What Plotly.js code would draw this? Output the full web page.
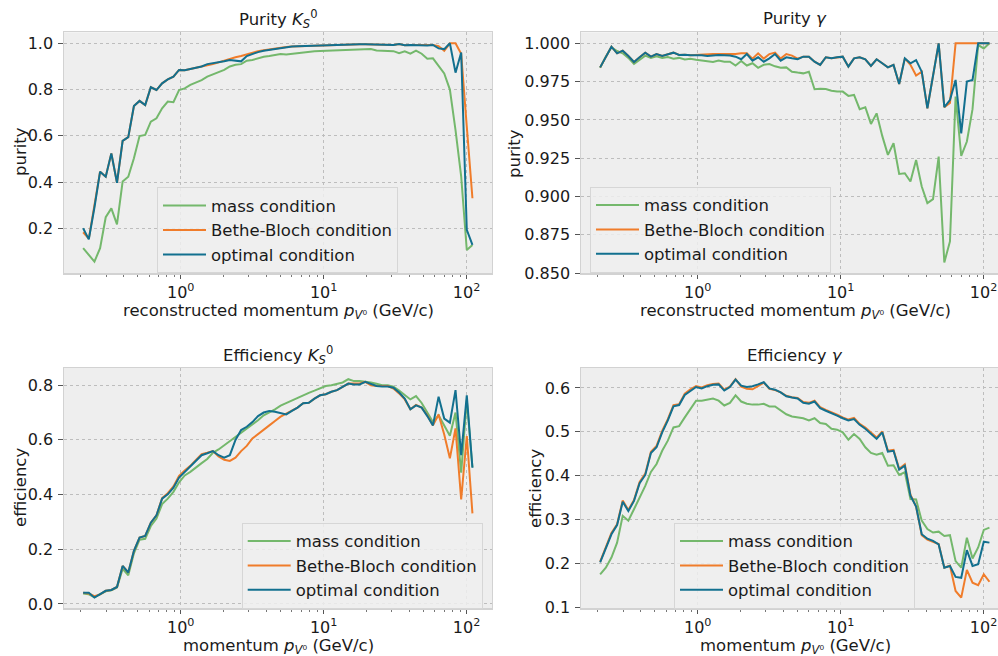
<!DOCTYPE html>
<html>
<head>
<meta charset="utf-8">
<script src="https://cdn.plot.ly/plotly-3.0.1.min.js"></script>
<style>
  html, body { margin: 0; padding: 0; overflow: hidden; background: #ffffff; }
  #chart { width: 1009px; height: 656px; }
</style>
</head>
<body>
<div id="chart"></div>
<script>
// Reconstructed V0 momentum bin centres (GeV/c), log-spaced
const momentum = [0.2075,0.2273,0.2489,0.2726,0.2985,0.3268,0.3579,0.3920,0.4293,0.4702,
  0.5148,0.5638,0.6175,0.6762,0.7406,0.8112,0.8887,0.9732,1.0656,1.1671,
  1.2782,1.3998,1.5330,1.6788,1.8385,2.0137,2.2054,2.4155,2.6448,2.8965,
  3.1721,3.4739,3.8046,4.1667,4.5634,4.9976,5.4732,5.9952,6.5645,7.1895,
  7.8740,8.6237,9.4450,10.342,11.326,12.405,13.587,14.880,16.293,17.845,
  19.543,21.404,23.442,25.668,28.113,30.789,33.721,36.932,40.442,44.293,
  48.511,53.130,58.190,63.714,69.782,76.427,83.704,91.675,100.37,109.93];

// Purity K0_S
const purityK0Mass = [0.114,0.085,0.056,0.114,0.248,0.286,0.217,0.402,0.423,0.503,
  0.599,0.604,0.661,0.676,0.719,0.748,0.745,0.798,0.805,0.820,
  0.830,0.841,0.856,0.866,0.875,0.885,0.900,0.907,0.910,0.925,
  0.928,0.935,0.942,0.945,0.951,0.954,0.952,0.955,0.958,0.962,
  0.965,0.966,0.967,0.968,0.968,0.968,0.968,0.969,0.970,0.971,
  0.972,0.975,0.969,0.968,0.968,0.966,0.957,0.965,0.955,0.968,
  0.955,0.933,0.935,0.905,0.870,0.800,0.625,0.425,0.106,0.128];
const purityK0BetheBloch = [0.183,0.155,0.300,0.445,0.423,0.524,0.397,0.578,0.594,0.729,
  0.751,0.733,0.810,0.798,0.827,0.844,0.856,0.885,0.884,0.890,
  0.895,0.902,0.905,0.910,0.918,0.925,0.935,0.940,0.945,0.952,
  0.960,0.966,0.970,0.974,0.978,0.982,0.984,0.986,0.987,0.988,
  0.990,0.991,0.992,0.993,0.993,0.994,0.994,0.995,0.995,0.996,
  0.996,0.996,0.995,0.994,0.994,0.993,0.997,0.992,0.993,0.992,
  0.993,0.993,0.993,0.988,0.968,1.000,1.000,0.955,0.640,0.330];
const purityK0Optimal = [0.200,0.152,0.290,0.445,0.423,0.524,0.397,0.578,0.594,0.729,
  0.751,0.733,0.810,0.798,0.827,0.844,0.856,0.885,0.884,0.890,
  0.897,0.900,0.910,0.913,0.918,0.922,0.928,0.925,0.922,0.945,
  0.955,0.962,0.968,0.972,0.977,0.981,0.984,0.986,0.987,0.988,
  0.990,0.991,0.992,0.993,0.993,0.994,0.994,0.995,0.995,0.996,
  0.996,0.996,0.995,0.994,0.994,0.993,0.997,0.992,0.993,0.992,
  0.993,0.991,0.993,0.978,0.975,1.000,0.873,0.960,0.193,0.128];

// Purity gamma
const purityGammaMass = [0.9840,0.9913,0.9974,0.9950,0.9935,0.9905,0.9865,0.9895,0.9920,0.9905,
  0.9915,0.9905,0.9910,0.9900,0.9905,0.9895,0.9900,0.9893,0.9888,0.9885,
  0.9878,0.9887,0.9880,0.9880,0.9855,0.9885,0.9855,0.9870,0.9840,0.9860,
  0.9865,0.9850,0.9840,0.9843,0.9815,0.9809,0.9804,0.9815,0.9700,0.9704,
  0.9702,0.9691,0.9685,0.9685,0.9657,0.9663,0.9570,0.9583,0.9474,0.9543,
  0.9396,0.9272,0.9348,0.9148,0.9152,0.9098,0.9239,0.9065,0.8957,0.8983,
  0.9261,0.8570,0.8707,0.9652,0.9265,0.9359,0.9570,0.9989,0.9967,1.0000];
const purityGammaBetheBloch = [0.9843,0.9913,0.9978,0.9935,0.9952,0.9917,0.9878,0.9909,0.9939,0.9913,
  0.9930,0.9917,0.9930,0.9939,0.9924,0.9926,0.9922,0.9924,0.9930,0.9930,
  0.9930,0.9930,0.9930,0.9932,0.9930,0.9935,0.9935,0.9900,0.9935,0.9900,
  0.9930,0.9940,0.9900,0.9930,0.9920,0.9900,0.9913,0.9913,0.9880,0.9859,
  0.9909,0.9902,0.9909,0.9913,0.9848,0.9902,0.9909,0.9896,0.9852,0.9896,
  0.9870,0.9843,0.9859,0.9735,0.9902,0.9860,0.9790,0.9815,0.9576,0.9783,
  1.0000,0.9583,0.9610,1.0000,1.0000,1.0000,1.0000,1.0000,1.0000,1.0000];
const purityGammaOptimal = [0.9843,0.9913,0.9978,0.9935,0.9952,0.9917,0.9878,0.9909,0.9939,0.9913,
  0.9930,0.9917,0.9930,0.9939,0.9924,0.9926,0.9922,0.9924,0.9922,0.9917,
  0.9920,0.9924,0.9922,0.9920,0.9913,0.9896,0.9930,0.9887,0.9909,0.9880,
  0.9902,0.9930,0.9887,0.9909,0.9902,0.9896,0.9913,0.9913,0.9880,0.9859,
  0.9909,0.9902,0.9909,0.9913,0.9848,0.9902,0.9909,0.9896,0.9852,0.9896,
  0.9870,0.9843,0.9859,0.9735,0.9902,0.9870,0.9891,0.9815,0.9576,0.9783,
  1.0000,0.9583,0.9630,0.9761,0.9413,0.9750,0.9761,1.0000,1.0000,1.0000];

// Efficiency K0_S
const effK0Mass = [0.038,0.035,0.025,0.035,0.046,0.050,0.060,0.128,0.105,0.185,
  0.235,0.238,0.285,0.312,0.365,0.385,0.410,0.445,0.470,0.483,
  0.500,0.515,0.530,0.553,0.565,0.580,0.595,0.610,0.625,0.640,
  0.655,0.672,0.690,0.700,0.712,0.725,0.735,0.745,0.752,0.762,
  0.772,0.780,0.790,0.797,0.800,0.806,0.810,0.822,0.815,0.815,
  0.813,0.810,0.805,0.800,0.800,0.795,0.780,0.765,0.748,0.760,
  0.735,0.700,0.665,0.690,0.655,0.615,0.700,0.480,0.745,0.500];
const effK0BetheBloch = [0.041,0.038,0.028,0.035,0.048,0.051,0.062,0.139,0.115,0.194,
  0.243,0.249,0.297,0.324,0.387,0.405,0.430,0.468,0.488,0.505,
  0.527,0.548,0.553,0.559,0.539,0.527,0.523,0.535,0.559,0.578,
  0.605,0.620,0.636,0.653,0.669,0.685,0.696,0.706,0.718,0.734,
  0.736,0.751,0.763,0.767,0.776,0.782,0.793,0.806,0.806,0.806,
  0.812,0.800,0.797,0.797,0.797,0.788,0.770,0.748,0.712,0.728,
  0.718,0.690,0.653,0.693,0.620,0.533,0.642,0.382,0.614,0.331];
const effK0Optimal = [0.041,0.041,0.023,0.035,0.048,0.051,0.062,0.139,0.115,0.194,
  0.243,0.249,0.297,0.324,0.385,0.401,0.425,0.462,0.483,0.502,
  0.523,0.544,0.551,0.559,0.544,0.535,0.544,0.600,0.636,0.648,
  0.665,0.687,0.700,0.706,0.703,0.697,0.693,0.706,0.718,0.734,
  0.736,0.751,0.763,0.767,0.776,0.782,0.793,0.806,0.803,0.803,
  0.812,0.803,0.797,0.795,0.795,0.791,0.773,0.751,0.712,0.726,
  0.718,0.687,0.653,0.758,0.678,0.663,0.782,0.544,0.763,0.498];

// Efficiency gamma
const effGammaMass = [0.176,0.191,0.214,0.248,0.309,0.298,0.324,0.351,0.377,0.409,
  0.427,0.457,0.480,0.510,0.513,0.533,0.552,0.571,0.571,0.573,
  0.576,0.571,0.560,0.566,0.583,0.569,0.564,0.562,0.562,0.564,
  0.558,0.558,0.548,0.540,0.535,0.533,0.531,0.526,0.531,0.520,
  0.518,0.507,0.505,0.499,0.482,0.495,0.484,0.465,0.452,0.448,
  0.452,0.423,0.424,0.402,0.408,0.347,0.346,0.298,0.279,0.271,
  0.273,0.263,0.265,0.206,0.191,0.259,0.212,0.237,0.277,0.282];
const effGammaBetheBloch = [0.205,0.240,0.270,0.290,0.344,0.322,0.345,0.386,0.405,0.455,
  0.468,0.502,0.529,0.561,0.563,0.587,0.597,0.604,0.601,0.606,
  0.609,0.610,0.596,0.603,0.620,0.603,0.598,0.597,0.604,0.612,
  0.598,0.595,0.590,0.582,0.579,0.577,0.568,0.566,0.571,0.556,
  0.550,0.545,0.539,0.533,0.528,0.532,0.518,0.510,0.498,0.487,
  0.501,0.457,0.459,0.416,0.426,0.357,0.330,0.265,0.255,0.250,
  0.245,0.191,0.196,0.138,0.123,0.186,0.157,0.151,0.176,0.159];
const effGammaOptimal = [0.203,0.237,0.267,0.288,0.341,0.320,0.343,0.383,0.402,0.452,
  0.465,0.499,0.526,0.558,0.561,0.584,0.594,0.602,0.599,0.604,
  0.607,0.608,0.594,0.602,0.619,0.605,0.602,0.604,0.608,0.613,
  0.599,0.596,0.590,0.581,0.578,0.576,0.566,0.564,0.569,0.554,
  0.548,0.543,0.537,0.531,0.526,0.529,0.516,0.507,0.495,0.484,
  0.499,0.455,0.457,0.414,0.423,0.355,0.330,0.267,0.257,0.252,
  0.244,0.191,0.195,0.170,0.168,0.231,0.195,0.199,0.250,0.248];

// Legend entries and tick labels
const seriesNames = ['mass condition', 'Bethe-Bloch condition', 'optimal condition'];
const xTickVals = [1, 10, 100];
const xTickText = ['10<sup>0</sup>', '10<sup>1</sup>', '10<sup>2</sup>'];
const xMinorVals = [0.2,0.3,0.4,0.5,0.6,0.7,0.8,0.9,2,3,4,5,6,7,8,9,20,30,40,50,60,70,80,90];
const purityK0Ticks = [0.2, 0.4, 0.6, 0.8, 1.0];
const purityGammaTicks = [0.850, 0.875, 0.900, 0.925, 0.950, 0.975, 1.000];
const effK0Ticks = [0.0, 0.2, 0.4, 0.6, 0.8];
const effGammaTicks = [0.1, 0.2, 0.3, 0.4, 0.5, 0.6];

const W = 1009, H = 656;
const FONT = 'DejaVu Sans, Liberation Sans, sans-serif';
const seriesColors = ['#74b86c', '#f07c2a', '#12708f'];
const TEXT = '#1a1a1a';

const panels = [
  { key: '',  series: [purityK0Mass, purityK0BetheBloch, purityK0Optimal] },
  { key: '2', series: [purityGammaMass, purityGammaBetheBloch, purityGammaOptimal] },
  { key: '3', series: [effK0Mass, effK0BetheBloch, effK0Optimal] },
  { key: '4', series: [effGammaMass, effGammaBetheBloch, effGammaOptimal] }
];

const data = [];
panels.forEach(p => {
  p.series.forEach((ys, s) => {
    data.push({
      type: 'scatter', mode: 'lines',
      x: momentum, y: ys,
      name: seriesNames[s],
      line: { color: seriesColors[s], width: 2 },
      xaxis: 'x' + p.key, yaxis: 'y' + p.key,
      legend: 'legend' + p.key,
      hoverinfo: 'skip'
    });
  });
});

// pixel helpers for paper coordinates
const fx = v => v / W;
const fy = v => 1 - v / H;

function xAxis(left, right, anchor) {
  return {
    type: 'log', range: [-0.817, 2.178], domain: [fx(left), fx(right)], anchor: anchor,
    tickmode: 'array', tickvals: xTickVals, ticktext: xTickText,
    ticks: 'outside', ticklen: 4.5, tickwidth: 1, tickcolor: '#555',
    showgrid: true, gridcolor: '#bdbdbd', griddash: 'dot', gridwidth: 1,
    showline: true, mirror: true, linecolor: '#d2d2d2', linewidth: 1.2,
    zeroline: false, fixedrange: true,
    tickfont: { family: FONT, size: 16, color: TEXT },
    minor: { tickmode: 'array', tickvals: xMinorVals, ticks: 'outside', ticklen: 2.5,
             tickwidth: 1, tickcolor: '#777', showgrid: false }
  };
}
function yAxis(top, bottom, anchor, range, ticks, fmt) {
  return {
    range: range, domain: [fy(bottom), fy(top)], anchor: anchor,
    tickmode: 'array', tickvals: ticks, tickformat: fmt,
    ticks: 'outside', ticklen: 4.5, tickwidth: 1, tickcolor: '#555',
    showgrid: true, gridcolor: '#bdbdbd', griddash: 'dot', gridwidth: 1,
    showline: true, mirror: true, linecolor: '#d2d2d2', linewidth: 1.2,
    zeroline: false, fixedrange: true, ticklabelstandoff: 2,
    tickfont: { family: FONT, size: 16, color: TEXT }
  };
}

function legendAt(left, top) {
  return {
    x: fx(left), y: fy(top), xanchor: 'left', yanchor: 'top',
    bgcolor: 'rgba(238,238,238,0.85)', bordercolor: '#d6d6d6', borderwidth: 1,
    font: { family: FONT, size: 16.5, color: TEXT },
    itemwidth: 43, traceorder: 'normal'
  };
}

function label(text, x, y, angle) {
  return {
    text: text, x: fx(x), y: fy(y), xref: 'paper', yref: 'paper',
    xanchor: 'center', yanchor: 'middle', showarrow: false, textangle: angle || 0,
    borderpad: 0,
    font: { family: FONT, size: 16.5, color: TEXT }
  };
}

const pV0 = '<i>p</i><sub><i>V</i>⁰</sub>';

const layout = {
  width: W, height: H,
  margin: { l: 0, r: 0, t: 0, b: 0 },
  paper_bgcolor: '#ffffff', plot_bgcolor: '#eeeeee',
  showlegend: true,
  xaxis:  xAxis(64, 492, 'y'),
  yaxis:  yAxis(32.3, 273.3, 'x', [0.0054, 1.0476], purityK0Ticks, '.1f'),
  xaxis2: xAxis(581, 1009, 'y2'),
  yaxis2: yAxis(32.3, 273.3, 'x2', [0.8499, 1.0072], purityGammaTicks, '.3f'),
  xaxis3: xAxis(64, 492, 'y3'),
  yaxis3: yAxis(367.7, 608.3, 'x3', [-0.016, 0.864], effK0Ticks, '.1f'),
  xaxis4: xAxis(581, 1009, 'y4'),
  yaxis4: yAxis(367.7, 608.3, 'x4', [0.0986, 0.646], effGammaTicks, '.1f'),
  legend:  legendAt(157, 187.3),
  legend2: legendAt(590, 186.7),
  legend3: legendAt(241.7, 522.7),
  legend4: legendAt(674, 522.7),
  annotations: [
    label('Purity <i>K</i><sub><i>S</i></sub><sup>0</sup>', 278, 19),
    label('Purity <i>γ</i>', 795, 19),
    label('Efficiency <i>K</i><sub><i>S</i></sub><sup>0</sup>', 278, 355),
    label('Efficiency <i>γ</i>', 795, 355),
    label('reconstructed momentum ' + pV0 + ' (GeV/c)', 278, 311.5),
    label('reconstructed momentum ' + pV0 + ' (GeV/c)', 795, 311.5),
    label('momentum ' + pV0 + ' (GeV/c)', 278, 646),
    label('momentum ' + pV0 + ' (GeV/c)', 795, 646),
    label('purity', 20, 152, -90),
    label('purity', 514, 154, -90),
    label('efficiency', 20, 488, -90),
    label('efficiency', 535, 489, -90)
  ]
};

Plotly.newPlot('chart', data, layout, { displayModeBar: false, staticPlot: true });
</script>
</body>
</html>
